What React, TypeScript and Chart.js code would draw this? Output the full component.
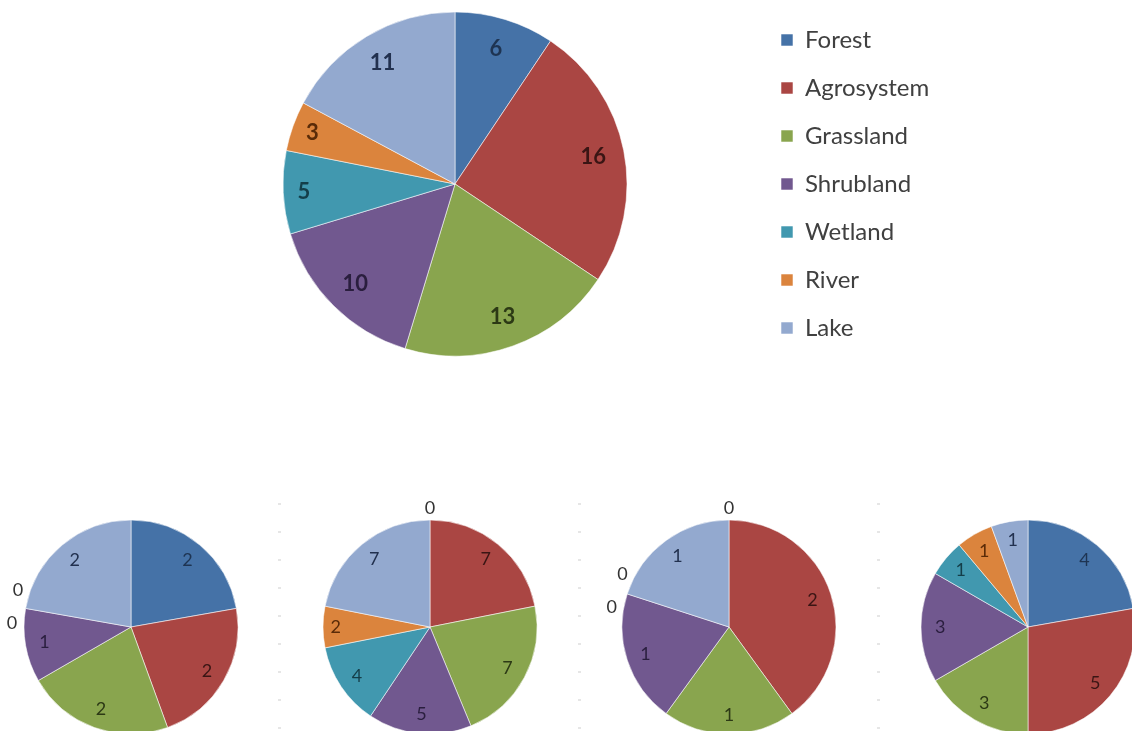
import React, { useEffect, useRef } from 'react';
import { Chart, registerables } from 'chart.js';

Chart.register(...registerables);

// ---- data ----
const categories = ['Forest', 'Agrosystem', 'Grassland', 'Shrubland', 'Wetland', 'River', 'Lake'];
const totalValues = [6, 16, 13, 10, 5, 3, 11];
const site1Values = [2, 2, 2, 1, 0, 0, 2];
const site2Values = [0, 7, 7, 5, 4, 2, 7];
const site3Values = [0, 2, 1, 1, 0, 0, 1];
const site4Values = [4, 5, 3, 3, 1, 1, 1];

// ---- styles ----
const sliceColors = ['#4572A7', '#AA4643', '#89A54E', '#71588F', '#4198AF', '#DB843D', '#93A9CF'];
const labelColors = ['#1E3452', '#3A1514', '#2C3915', '#2A1E3E', '#143E49', '#5A2B08', '#22314F'];
const FONT = 'Lato, "Open Sans", sans-serif';

const LEGEND_FONT = 24;
const LEGEND_PAD = 48 - LEGEND_FONT;
const LEGEND_BOX = 12;

const sliceLabelPlugin = {
  id: 'sliceLabels',
  afterDatasetsDraw(chart: any, _args: any, opts: any) {
    const ctx = chart.ctx;
    const meta = chart.getDatasetMeta(0);
    const data: number[] = chart.data.datasets[0].data;
    const n = data.length;
    ctx.save();
    ctx.font = opts.font;
    ctx.textAlign = 'center';
    ctx.textBaseline = 'middle';
    let i = 0;
    while (i < n) {
      const arc: any = meta.data[i];
      const cx = arc.x;
      const cy = arc.y;
      if (data[i] === 0) {
        let j = i;
        while (j + 1 < n && data[j + 1] === 0) j++;
        const group = j - i + 1;
        const ang = arc.startAngle;
        const R = arc.outerRadius + opts.outside;
        const bx = Math.cos(ang) * R;
        const by = Math.sin(ang) * R;
        const side = bx < -1 ? -1 : bx > 1 ? 1 : 0;
        for (let k = 0; k < group; k++) {
          const dir = side <= 0 ? 1 : -1;
          const dy = by + dir * ((group - 1) / 2 - k) * opts.stack;
          let dx = bx;
          if (group > 1 && Math.abs(dy) < R) dx = (side < 0 ? -1 : 1) * Math.sqrt(R * R - dy * dy);
          ctx.fillStyle = opts.zeroColor;
          ctx.fillText('0', cx + dx, cy + dy);
        }
        i = j + 1;
        continue;
      }
      const mid = (arc.startAngle + arc.endAngle) / 2;
      const span = arc.endAngle - arc.startAngle;
      let f = opts.factor;
      if (span < 0.55 && Math.abs(Math.cos(mid)) > 0.85) f += 0.06;
      const r = arc.outerRadius * f;
      ctx.fillStyle = labelColors[i];
      ctx.fillText(String(data[i]), cx + Math.cos(mid) * r, cy + Math.sin(mid) * r);
      i++;
    }
    ctx.restore();
  },
};

function measureLegendWidth() {
  const c = document.createElement('canvas').getContext('2d') as CanvasRenderingContext2D;
  c.font = `${LEGEND_FONT}px ${FONT}`;
  let maxW = 0;
  categories.forEach((t) => {
    maxW = Math.max(maxW, c.measureText(t).width);
  });
  return LEGEND_PAD + LEGEND_BOX + LEGEND_FONT / 2 + maxW + 10;
}

type PieProps = {
  values: number[];
  left: number;
  top: number;
  width: number;
  height: number;
  big?: boolean;
};

function PieCanvas({ values, left, top, width, height, big }: PieProps) {
  const ref = useRef<HTMLCanvasElement | null>(null);
  useEffect(() => {
    if (!ref.current) return;
    let padding: any;
    let radius: number;
    if (big) {
      const legendW = measureLegendWidth();
      const legendLeft = 781 - LEGEND_PAD;
      const areaLeft = 2 * 455 - legendLeft;
      padding = { top: 0, bottom: 0, left: areaLeft, right: Math.max(0, width - legendLeft - legendW) };
      radius = 172;
    } else {
      padding = { top: 30, bottom: height - 30 - 214, left: (width - 214) / 2, right: (width - 214) / 2 };
      radius = 107;
    }
    const chart = new Chart(ref.current, {
      type: 'pie',
      data: {
        labels: categories,
        datasets: [
          {
            data: values,
            backgroundColor: sliceColors,
            borderColor: 'rgba(255,255,255,0.55)',
            borderWidth: 1,
          },
        ],
      },
      options: {
        responsive: false,
        animation: false,
        events: [],
        radius,
        layout: { padding },
        plugins: {
          tooltip: { enabled: false },
          legend: big
            ? {
                display: true,
                position: 'right',
                labels: {
                  boxWidth: LEGEND_BOX,
                  boxHeight: LEGEND_BOX,
                  padding: LEGEND_PAD,
                  color: '#404040',
                  font: { family: FONT, size: LEGEND_FONT },
                },
              }
            : { display: false },
          sliceLabels: big
            ? { font: `bold 22px ${FONT}`, factor: 0.82, outside: 14, stack: 33, zeroColor: '#404040' }
            : { font: `18px ${FONT}`, factor: 0.82, outside: 12, stack: 33, zeroColor: '#333333' },
        } as any,
      } as any,
      plugins: [sliceLabelPlugin],
    });
    return () => chart.destroy();
  }, []);
  return (
    <canvas
      ref={ref}
      width={width}
      height={height}
      style={{ position: 'absolute', left, top, width, height }}
    />
  );
}

const dotLineXs = [279, 579, 878];

export default function App() {
  const smallCenters = [131, 430, 729, 1028];
  const smallSets = [site1Values, site2Values, site3Values, site4Values];
  return (
    <div
      style={{
        position: 'absolute',
        left: 0,
        top: 0,
        width: 1132,
        height: 731,
        overflow: 'hidden',
        background: '#ffffff',
      }}
    >
      <PieCanvas values={totalValues} left={0} top={0} width={1132} height={368} big />
      {dotLineXs.map((x) => (
        <div
          key={x}
          style={{
            position: 'absolute',
            left: x - 1,
            top: 503,
            width: 3,
            height: 228,
            background: 'repeating-linear-gradient(to bottom, #e6e6e6 0px, #e6e6e6 2px, transparent 2px, transparent 28px)',
          }}
        />
      ))}
      {smallCenters.map((cx, i) => (
        <PieCanvas key={i} values={smallSets[i]} left={cx - 130} top={490} width={260} height={260} />
      ))}
    </div>
  );
}
